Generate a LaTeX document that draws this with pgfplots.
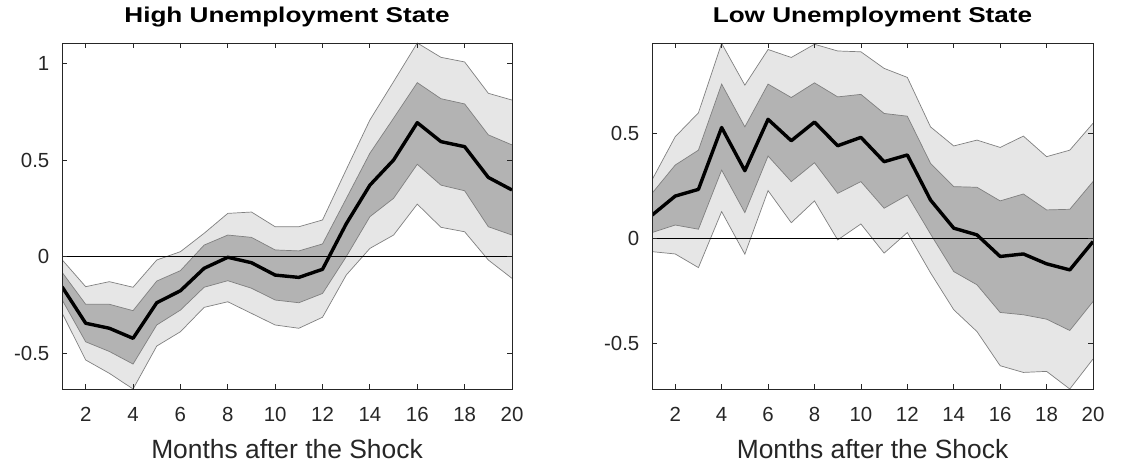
\documentclass[border=0pt]{standalone}
\usepackage{pgfplots}
\pgfplotsset{compat=1.18}
\usepackage{pgfplotstable}
\usepgfplotslibrary{fillbetween}
\usepackage{fontspec}
\setmainfont{Liberation Sans}
\newfontfamily\titlefont[FakeStretch=1.22]{Liberation Sans}
\definecolor{axgray}{rgb}{0.15,0.15,0.15}
\definecolor{lightband}{rgb}{0.902,0.902,0.902}
\definecolor{darkband}{rgb}{0.702,0.702,0.702}
\definecolor{edgegray}{rgb}{0.5,0.5,0.5}

\pgfplotstableread{
k LU DU M DL LL
1 -0.015 -0.080 -0.155 -0.222 -0.290
2 -0.155 -0.246 -0.344 -0.440 -0.534
3 -0.129 -0.246 -0.370 -0.490 -0.603
4 -0.158 -0.279 -0.422 -0.555 -0.684
5 -0.017 -0.126 -0.238 -0.353 -0.462
6 0.026 -0.072 -0.176 -0.276 -0.388
7 0.121 0.060 -0.060 -0.158 -0.262
8 0.224 0.112 -0.003 -0.124 -0.233
9 0.231 0.100 -0.031 -0.163 -0.293
10 0.155 0.035 -0.095 -0.224 -0.353
11 0.155 0.030 -0.107 -0.238 -0.370
12 0.190 0.066 -0.065 -0.190 -0.313
13 0.450 0.300 0.170 0.000 -0.095
14 0.707 0.535 0.370 0.207 0.043
15 0.905 0.716 0.500 0.302 0.112
16 1.105 0.900 0.693 0.478 0.272
17 1.031 0.817 0.595 0.370 0.152
18 1.007 0.790 0.569 0.341 0.129
19 0.845 0.630 0.410 0.155 -0.017
20 0.810 0.578 0.345 0.112 -0.112
}\highdata

\pgfplotstableread{
k LU DU M DL LL
1 0.278 0.214 0.110 0.027 -0.064
2 0.484 0.349 0.201 0.063 -0.075
3 0.598 0.420 0.233 0.043 -0.140
4 0.929 0.735 0.528 0.325 0.127
5 0.730 0.531 0.322 0.122 -0.076
6 0.900 0.735 0.567 0.392 0.227
7 0.862 0.671 0.465 0.270 0.074
8 0.925 0.741 0.554 0.360 0.178
9 0.893 0.674 0.441 0.214 -0.008
10 0.889 0.686 0.481 0.270 0.068
11 0.810 0.595 0.365 0.143 -0.071
12 0.767 0.582 0.397 0.206 0.027
13 0.531 0.357 0.182 0.020 -0.165
14 0.440 0.246 0.048 -0.159 -0.341
15 0.468 0.243 0.016 -0.222 -0.445
16 0.433 0.178 -0.087 -0.354 -0.608
17 0.487 0.211 -0.075 -0.365 -0.640
18 0.389 0.135 -0.122 -0.386 -0.635
19 0.420 0.138 -0.151 -0.440 -0.719
20 0.548 0.270 -0.016 -0.302 -0.576
}\lowdata

\pgfplotsset{
  irfstyle/.style={
    scale only axis,
    height=346bp,
    xmin=1, xmax=20,
    xtick={2,4,...,20},
    xticklabels={2,4,6,8,10,12,14,16,18,20},
    xtick pos=both, ytick pos=both,
    tick align=inside,
    major tick length=5bp,
    axis line style={draw=axgray, line width=0.8bp},
    every tick/.style={draw=axgray, line width=0.8bp},
    tick label style={font=\fontsize{20.5}{24}\selectfont, text=axgray, inner sep=0pt},
    xticklabel style={anchor=base, yshift=-32.5bp},
    yticklabel style={anchor=east, xshift=-12.5bp},
    title style={font=\titlefont\fontsize{21.5}{25}\selectfont\bfseries, anchor=base, at={(0.5,1)}, yshift=15bp},
    xlabel style={font=\fontsize{26.5}{30}\selectfont, text=axgray, anchor=base, at={(0.5,0)}, yshift=-69bp},
    xlabel={Months after the Shock},
    axis on top,
  },
}

\begin{document}
\begin{tikzpicture}
\begin{axis}[irfstyle,
  at={(62bp,77bp)}, anchor=south west,
  width=450bp,
  ymin=-0.684, ymax=1.105,
  ytick={-0.5,0,0.5,1},
  yticklabels={-0.5,0,0.5,1},
  title={High Unemployment State},
]
\addplot[name path=hlu, draw=edgegray, line width=0.7bp] table[x=k, y=LU] {\highdata};
\addplot[name path=hll, draw=edgegray, line width=0.7bp] table[x=k, y=LL] {\highdata};
\addplot[lightband] fill between[of=hlu and hll];
\addplot[name path=hdu, draw=edgegray, line width=0.7bp] table[x=k, y=DU] {\highdata};
\addplot[name path=hdl, draw=edgegray, line width=0.7bp] table[x=k, y=DL] {\highdata};
\addplot[darkband] fill between[of=hdu and hdl];
\addplot[black, line width=1bp] coordinates {(1,0) (20,0)};
\addplot[black, line width=3.4bp, line join=round] table[x=k, y=M] {\highdata};
\end{axis}

\begin{axis}[irfstyle,
  at={(652bp,77bp)}, anchor=south west,
  width=441bp,
  ymin=-0.719, ymax=0.931,
  ytick={-0.5,0,0.5},
  yticklabels={-0.5,0,0.5},
  title={Low Unemployment State},
]
\addplot[name path=llu, draw=edgegray, line width=0.7bp] table[x=k, y=LU] {\lowdata};
\addplot[name path=lll, draw=edgegray, line width=0.7bp] table[x=k, y=LL] {\lowdata};
\addplot[lightband] fill between[of=llu and lll];
\addplot[name path=ldu, draw=edgegray, line width=0.7bp] table[x=k, y=DU] {\lowdata};
\addplot[name path=ldl, draw=edgegray, line width=0.7bp] table[x=k, y=DL] {\lowdata};
\addplot[darkband] fill between[of=ldu and ldl];
\addplot[black, line width=1bp] coordinates {(1,0) (20,0)};
\addplot[black, line width=3.4bp, line join=round] table[x=k, y=M] {\lowdata};
\end{axis}
\pgfresetboundingbox
\path[use as bounding box] (0,0) rectangle (1126bp,466bp);
\end{tikzpicture}
\end{document}
